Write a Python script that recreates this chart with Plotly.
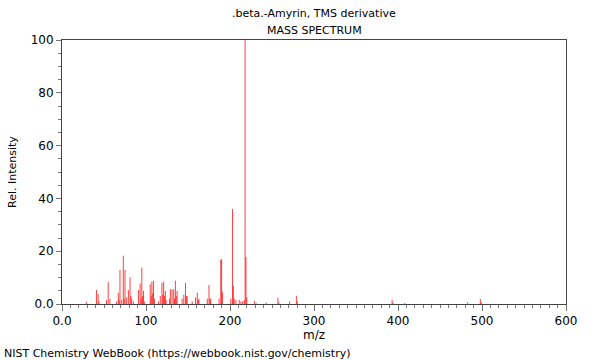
import plotly.graph_objects as go

mz = [29, 41, 43, 44, 53, 55, 57, 65, 67, 68, 69, 71, 73, 74, 75, 77, 79, 81, 82, 83, 85,
      91, 93, 94, 95, 96, 97, 98, 105, 106, 107, 108, 109, 110, 115, 117, 119, 120, 121, 122,
      123, 124, 128, 129, 131, 133, 134, 135, 136, 137, 143, 145, 147, 148, 149, 155, 159,
      161, 162, 163, 173, 175, 176, 177, 187, 189, 190, 191, 201, 203, 204, 205, 207, 211,
      213, 215, 217, 218, 219, 220, 229, 231, 243, 257, 258, 271, 279, 280, 393, 394, 408,
      483, 498, 499]
intensity = [0.8, 5.3, 3.7, 1.0, 1.5, 8.3, 2.0, 1.0, 4.3, 1.5, 12.9, 1.5, 18.3, 2.0, 12.9,
             2.5, 5.3, 10.1, 3.0, 2.0, 1.0, 5.3, 7.8, 2.0, 13.8, 3.0, 5.0, 1.0, 7.5, 3.0, 8.5,
             4.0, 8.7, 2.0, 1.0, 3.0, 8.0, 3.5, 8.5, 3.0, 5.0, 1.5, 2.0, 5.6, 5.6, 5.6, 2.0,
             8.8, 3.0, 5.0, 2.0, 3.5, 8.0, 3.0, 3.0, 1.0, 2.5, 4.3, 1.5, 2.0, 2.0, 7.2, 2.0,
             2.0, 2.0, 16.7, 17.0, 4.5, 2.0, 36.0, 6.8, 2.0, 1.5, 1.5, 1.0, 1.0, 1.5, 100.0,
             17.8, 2.5, 1.2, 0.5, 0.5, 2.4, 0.6, 1.0, 3.1, 1.0, 1.5, 0.5, 0.4, 0.7, 1.9, 0.8]

x_ticks = [0, 100, 200, 300, 400, 500, 600]
x_labels = ["0.0", "100", "200", "300", "400", "500", "600"]
y_ticks = [0, 20, 40, 60, 80, 100]
y_labels = ["0.0", "20", "40", "60", "80", "100"]

xs, ys = [], []
for m, v in zip(mz, intensity):
    xs += [m, m, None]
    ys += [0, v, None]

fig = go.Figure()
fig.add_trace(go.Scatter(x=xs, y=ys, mode="lines",
                         line=dict(color="rgba(255,0,0,0.75)", width=1),
                         hoverinfo="skip", showlegend=False))

axis_common = dict(showline=True, linecolor="#444", linewidth=1, mirror=True,
                   showgrid=False, zeroline=False, ticks="outside", tickcolor="#777",
                   automargin=False, tickfont=dict(size=12, color="#000"))
fig.update_xaxes(range=[0, 600], tickvals=x_ticks, ticktext=x_labels, ticklen=6,
                 minor=dict(dtick=10, ticks="outside", ticklen=3, tickcolor="#777"),
                 **axis_common)
fig.update_yaxes(range=[0, 100], tickvals=y_ticks, ticktext=y_labels, ticklen=5,
                 minor=dict(dtick=5, ticks="outside", ticklen=3, tickcolor="#777"),
                 **axis_common)

fig.update_layout(
    width=600, height=360,
    margin=dict(l=62, r=34, t=40, b=56),
    paper_bgcolor="white", plot_bgcolor="white",
    font=dict(family="DejaVu Sans", size=11, color="#000"),
    annotations=[
        dict(text=".beta.-Amyrin, TMS derivative", xref="paper", yref="paper",
             x=0.5, y=1, yshift=27, showarrow=False, font=dict(size=11),
             xanchor="center", yanchor="middle"),
        dict(text="MASS SPECTRUM", xref="paper", yref="paper",
             x=0.5, y=1, yshift=10, showarrow=False, font=dict(size=11),
             xanchor="center", yanchor="middle"),
        dict(text="m/z", xref="paper", yref="paper",
             x=0.5, y=0, yshift=-31, showarrow=False, font=dict(size=12),
             xanchor="center", yanchor="middle"),
        dict(text="Rel. Intensity", xref="paper", yref="paper", textangle=-90,
             x=0, xshift=-50, y=0.5, showarrow=False, font=dict(size=11),
             xanchor="center", yanchor="middle"),
        dict(text="NIST Chemistry WebBook (https://webbook.nist.gov/chemistry)",
             xref="paper", yref="paper", x=0, xshift=-60, y=0, yshift=-49,
             showarrow=False, font=dict(size=11), xanchor="left", yanchor="middle"),
    ],
)

fig.write_html("out.html", config={"displayModeBar": False},
               post_script="document.body.style.margin='0';")
